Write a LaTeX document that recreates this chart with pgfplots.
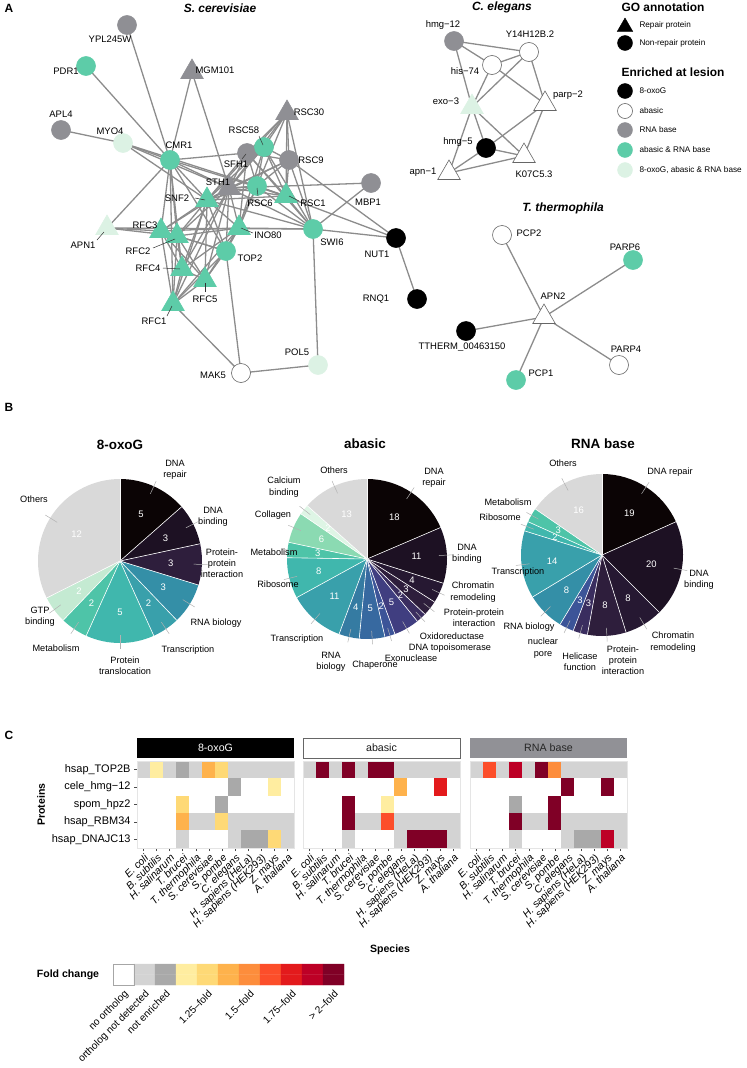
\documentclass[border=0pt]{standalone}
\usepackage{pgfplots}
\pgfplotsset{compat=1.18}
\usepackage{fontspec}
\setmainfont{Liberation Sans}

\definecolor{nteal}{RGB}{93,204,168}
\definecolor{ngrey}{RGB}{143,143,148}
\definecolor{nlight}{RGB}{220,242,228}
\definecolor{edgec}{RGB}{140,140,140}
\definecolor{p0}{RGB}{11,4,5}
\definecolor{p1}{RGB}{29,17,35}
\definecolor{p2}{RGB}{38,24,50}
\definecolor{p3}{RGB}{46,30,60}
\definecolor{p4}{RGB}{58,45,95}
\definecolor{p5}{RGB}{64,62,128}
\definecolor{p6}{RGB}{60,84,152}
\definecolor{p7}{RGB}{55,105,160}
\definecolor{p8}{RGB}{53,123,162}
\definecolor{p9}{RGB}{52,143,167}
\definecolor{p10}{RGB}{57,160,171}
\definecolor{p11}{RGB}{64,183,173}
\definecolor{p12}{RGB}{78,196,168}
\definecolor{p13}{RGB}{139,218,178}
\definecolor{p14}{RGB}{222,245,229}
\definecolor{pGTP}{RGB}{196,234,210}
\definecolor{pO}{RGB}{217,217,217}
\definecolor{stripgrey}{RGB}{145,145,150}

\pgfplotsset{
  colormap={fold}{rgb255=(255,255,255) rgb255=(211,211,211) rgb255=(169,169,169)
    rgb255=(255,237,160) rgb255=(254,217,118) rgb255=(254,178,76) rgb255=(253,141,60)
    rgb255=(252,78,42) rgb255=(227,26,28) rgb255=(189,0,38) rgb255=(128,0,38)},
  netedge/.style={color=edgec, line width=1.3bp, mark=none},
  heat/.style={scale only axis, width=157bp, height=87bp,
    xmin=-0.5, xmax=11.5, ymin=-0.5, ymax=4.5, y dir=reverse,
    enlargelimits=false, clip=false,
    colormap name=fold, colormap access=direct, point meta=explicit,
    xtick={0,...,11},
    xticklabels={E. coli, B. subtilis, H. salinarum, T. brucei, T. thermophila, S. cerevisiae, S. pombe, C. elegans, H. sapiens (HeLa), H. sapiens (HEK293), Z. mays, A. thaliana},
    xticklabel style={rotate=45, anchor=north east, font=\fontsize{10.5}{11}\selectfont\itshape, inner sep=1.5pt},
    tick align=outside, xtick pos=left, ytick pos=left,
    major tick length=3bp, tick style={color=black!70, line width=0.6bp},
    axis line style={draw=none}},
}

\newcommand\nd[3]{\expandafter\def\csname nd#1x\endcsname{#2}\expandafter\def\csname nd#1y\endcsname{#3}}
\newcommand\edg[2]{\edef\tmp{\noexpand\addplot[netedge] coordinates {(\csname nd#1x\endcsname,\csname nd#1y\endcsname) (\csname nd#2x\endcsname,\csname nd#2y\endcsname)};}\tmp}
\newcommand\ncirc[3]{\edef\tmp{\noexpand\addplot[only marks, mark=*, mark size=9.5bp, mark options={fill=#2, draw=#3, line width=0.6bp}] coordinates {(\csname nd#1x\endcsname,\csname nd#1y\endcsname)};}\tmp}
\newcommand\ntri[3]{\edef\tmp{\noexpand\addplot[only marks, mark=triangle*, mark size=13bp, mark options={fill=#2, draw=#3, line width=0.6bp}] coordinates {(\csname nd#1x\endcsname,\csname nd#1y\endcsname)};}\tmp}
\newcommand\nlab[3]{\begin{pgfonlayer}{axis foreground}\node[font=\fontsize{9.5}{11}\selectfont, inner sep=0pt] at (axis cs:#1,#2) {#3};\end{pgfonlayer}}
\newcommand\plab[3]{\node[font=\fontsize{9.2}{11.3}\selectfont, align=center, inner sep=0pt] at (axis cs:#1,#2) {#3};}
\newcommand\lead[4]{\begin{pgfonlayer}{axis foreground}\draw[black!80, line width=0.5bp] (axis cs:#1,#2) -- (axis cs:#3,#4);\end{pgfonlayer}}

\newcommand\pieslices[5]{%
  \xdef\pang{90}%
  \foreach \v/\c in {#5}{%
    \pgfmathsetmacro\pend{\pang-\v*360/#4}%
    \pgfmathsetmacro\pmid{(\pang+\pend)/2}%
    \fill[\c] (axis cs:#1,#2) -- ++(\pang:#3bp) arc[start angle=\pang, end angle=\pend, radius=#3bp] -- cycle;
    \draw[white, line width=0.6bp] (axis cs:#1,#2) -- ++(\pang:#3bp);
    \draw[black!30, line width=0.5bp] (axis cs:#1,#2) ++(\pmid:0.9*#3bp) -- ++(\pmid:0.17*#3bp);
    \path (axis cs:#1,#2) ++(\pmid:0.62*#3bp) node[font=\fontsize{9.5}{10}\selectfont, text=white] {\v};
    \xdef\pang{\pend}%
  }}

\begin{document}
\begin{tikzpicture}
\begin{axis}[at={(0,0)}, anchor=north west, scale only axis, width=747bp, height=1068bp,
  xmin=0, xmax=747, ymin=0, ymax=1068, y dir=reverse, hide axis, clip=false, set layers]

% ---------- network node positions (px) ----------
\nd{YPL}{127}{25}\nd{PDR1}{86}{66}\nd{MGM}{192}{72}\nd{APL4}{61}{130}\nd{MYO4}{123}{143}
\nd{CMR1}{170}{160}\nd{RSC30}{287}{113}\nd{RSC58}{264}{147}\nd{SFH1}{247}{153}\nd{RSC9}{289}{160}
\nd{STH1}{229}{188}\nd{RSC6}{257}{186}\nd{RSC1}{286}{196}\nd{SNF2}{207}{200}\nd{MBP1}{371}{183}
\nd{APN1}{107}{228}\nd{RFC3}{161}{231}\nd{RFC2}{177}{236}\nd{INO80}{239}{228}\nd{SWI6}{313}{229}
\nd{TOP2}{226}{251}\nd{RFC4}{182}{269}\nd{RFC5}{205}{280}\nd{RFC1}{173}{304}\nd{MAK5}{241}{373}
\nd{POL5}{318}{365}\nd{NUT1}{396}{238}\nd{RNQ1}{417}{299}
\nd{hmgA}{454}{41}\nd{Y14}{529}{52}\nd{his}{492}{65}\nd{exo}{472}{107}\nd{parp}{545}{104}
\nd{hmgB}{486}{148}\nd{K07}{524}{156}\nd{apn}{449}{173}
\nd{PCP2}{502}{235}\nd{PARP6}{633}{260}\nd{APN2}{544}{317}\nd{TTH}{466}{331}\nd{PARP4}{619}{365}\nd{PCP1}{516}{380}

% ---------- edges ----------
\edg{YPL}{CMR1}\edg{PDR1}{CMR1}\edg{MGM}{CMR1}\edg{MGM}{STH1}\edg{APL4}{MYO4}\edg{MYO4}{CMR1}
\edg{MYO4}{STH1}\edg{MYO4}{SNF2}\edg{MYO4}{RSC6}
\edg{CMR1}{SFH1}\edg{CMR1}{STH1}\edg{CMR1}{SNF2}\edg{CMR1}{RSC1}\edg{CMR1}{APN1}\edg{CMR1}{RFC3}
\edg{CMR1}{RFC2}\edg{CMR1}{RFC4}\edg{CMR1}{RFC1}\edg{CMR1}{TOP2}
\edg{RSC30}{RSC58}\edg{RSC30}{SFH1}\edg{RSC30}{RSC9}\edg{RSC30}{STH1}\edg{RSC30}{RSC6}\edg{RSC30}{RSC1}
\edg{RSC58}{SFH1}\edg{RSC58}{RSC9}\edg{RSC58}{STH1}\edg{RSC58}{RSC6}\edg{RSC58}{RSC1}
\edg{SFH1}{RSC9}\edg{SFH1}{STH1}\edg{SFH1}{RSC6}\edg{SFH1}{RSC1}
\edg{RSC9}{STH1}\edg{RSC9}{RSC6}\edg{RSC9}{RSC1}\edg{STH1}{RSC6}\edg{STH1}{RSC1}\edg{RSC6}{RSC1}
\edg{SWI6}{RSC30}\edg{SWI6}{RSC58}\edg{SWI6}{SFH1}\edg{SWI6}{RSC9}\edg{SWI6}{STH1}\edg{SWI6}{RSC6}
\edg{SWI6}{RSC1}\edg{SWI6}{SNF2}\edg{SWI6}{MBP1}\edg{SWI6}{APN1}\edg{SWI6}{POL5}\edg{SWI6}{NUT1}\edg{SWI6}{INO80}
\edg{SNF2}{STH1}\edg{SNF2}{RSC6}\edg{SNF2}{RSC1}\edg{SNF2}{SFH1}\edg{SNF2}{RSC58}\edg{SNF2}{RSC9}
\edg{SNF2}{RSC30}\edg{SNF2}{RFC3}\edg{SNF2}{RFC2}\edg{SNF2}{RFC4}\edg{SNF2}{RFC5}\edg{SNF2}{RFC1}
\edg{SNF2}{TOP2}\edg{SNF2}{INO80}
\edg{INO80}{STH1}\edg{INO80}{RSC6}\edg{INO80}{RSC58}\edg{INO80}{SFH1}\edg{INO80}{RFC3}\edg{INO80}{RFC2}
\edg{INO80}{RFC4}\edg{INO80}{RFC5}\edg{INO80}{RFC1}\edg{INO80}{TOP2}
\edg{TOP2}{RFC3}\edg{TOP2}{RFC2}\edg{TOP2}{RFC5}\edg{TOP2}{RFC1}\edg{TOP2}{STH1}\edg{TOP2}{MAK5}\edg{TOP2}{RSC6}
\edg{RFC1}{RFC2}\edg{RFC1}{RFC3}\edg{RFC1}{RFC4}\edg{RFC1}{RFC5}\edg{RFC2}{RFC3}\edg{RFC2}{RFC4}
\edg{RFC2}{RFC5}\edg{RFC3}{RFC4}\edg{RFC3}{RFC5}\edg{RFC4}{RFC5}
\edg{RFC3}{STH1}\edg{RFC2}{STH1}\edg{RFC4}{STH1}\edg{RFC5}{STH1}\edg{RFC1}{STH1}
\edg{APN1}{RFC3}\edg{APN1}{RFC2}\edg{MBP1}{STH1}
\edg{NUT1}{RSC9}\edg{NUT1}{RSC6}\edg{NUT1}{RNQ1}\edg{MAK5}{RFC1}\edg{MAK5}{POL5}
\edg{hmgA}{Y14}\edg{hmgA}{his}\edg{hmgA}{exo}\edg{his}{Y14}\edg{his}{exo}\edg{his}{parp}
\edg{Y14}{exo}\edg{Y14}{parp}\edg{exo}{apn}\edg{exo}{hmgB}\edg{exo}{K07}\edg{parp}{hmgB}
\edg{parp}{K07}\edg{hmgB}{apn}\edg{hmgB}{K07}\edg{apn}{K07}
\edg{APN2}{PCP2}\edg{APN2}{PARP6}\edg{APN2}{TTH}\edg{APN2}{PARP4}\edg{APN2}{PCP1}

% ---------- nodes ----------
\ncirc{YPL}{ngrey}{ngrey}\ncirc{PDR1}{nteal}{nteal}\ntri{MGM}{ngrey}{ngrey}\ncirc{APL4}{ngrey}{ngrey}
\ncirc{MYO4}{nlight}{nlight}\ncirc{CMR1}{nteal}{nteal}\ntri{RSC30}{ngrey}{ngrey}\ncirc{SFH1}{ngrey}{ngrey}
\ncirc{RSC58}{nteal}{nteal}\ncirc{RSC9}{ngrey}{ngrey}\ntri{STH1}{ngrey}{ngrey}\ncirc{RSC6}{nteal}{nteal}
\ntri{RSC1}{nteal}{nteal}\ntri{SNF2}{nteal}{nteal}\ncirc{MBP1}{ngrey}{ngrey}\ntri{APN1}{nlight}{nlight}
\ntri{RFC3}{nteal}{nteal}\ntri{RFC2}{nteal}{nteal}\ntri{INO80}{nteal}{nteal}\ncirc{SWI6}{nteal}{nteal}
\ncirc{TOP2}{nteal}{nteal}\ntri{RFC4}{nteal}{nteal}\ntri{RFC5}{nteal}{nteal}\ntri{RFC1}{nteal}{nteal}
\ncirc{MAK5}{white}{black!60}\ncirc{POL5}{nlight}{nlight}\ncirc{NUT1}{black}{black}\ncirc{RNQ1}{black}{black}
\ncirc{hmgA}{ngrey}{ngrey}\ncirc{Y14}{white}{black!60}\ncirc{his}{white}{black!60}\ntri{exo}{nlight}{nlight}
\ntri{parp}{white}{black!60}\ncirc{hmgB}{black}{black}\ntri{K07}{white}{black!60}\ntri{apn}{white}{black!60}
\ncirc{PCP2}{white}{black!60}\ncirc{PARP6}{nteal}{nteal}\ntri{APN2}{white}{black!60}\ncirc{TTH}{black}{black}
\ncirc{PARP4}{white}{black!60}\ncirc{PCP1}{nteal}{nteal}

% ---------- node labels ----------
\nlab{110}{39}{YPL245W}\nlab{66}{71}{PDR1}\nlab{215}{70}{MGM101}\nlab{61}{114}{APL4}\nlab{110}{131}{MYO4}
\nlab{179}{145}{CMR1}\nlab{309}{112}{RSC30}\nlab{244}{130}{RSC58}\nlab{236}{164}{SFH1}\nlab{311}{160}{RSC9}
\nlab{218}{182}{STH1}\nlab{260}{203}{RSC6}\nlab{313}{203}{RSC1}\nlab{177}{198}{SNF2}\nlab{368}{202}{MBP1}
\nlab{83}{245}{APN1}\nlab{145}{225}{RFC3}\nlab{138}{251}{RFC2}\nlab{268}{235}{INO80}\nlab{332}{242}{SWI6}
\nlab{250}{258}{TOP2}\nlab{148}{268}{RFC4}\nlab{205}{299}{RFC5}\nlab{154}{321}{RFC1}\nlab{213}{375}{MAK5}
\nlab{297}{352}{POL5}\nlab{377}{254}{NUT1}\nlab{376}{299}{RNQ1}
\lead{259}{136}{263}{145}\lead{242}{159}{246}{154}\lead{258}{196}{257}{188}\lead{299}{201}{289}{196}
\lead{253}{233}{241}{228}\lead{153}{248}{175}{239}\lead{163}{268}{180}{269}\lead{205}{292}{205}{283}
\lead{167}{316}{172}{306}\lead{97}{240}{104}{232}\lead{195}{198}{205}{200}
\nlab{443}{25}{hmg−12}\nlab{530}{34}{Y14H12B.2}\nlab{465}{71}{his−74}\nlab{446}{101}{exo−3}
\nlab{568}{95}{parp−2}\nlab{458}{142}{hmg−5}\nlab{534}{174}{K07C5.3}\nlab{423}{172}{apn−1}
\nlab{529}{233}{PCP2}\nlab{625}{247}{PARP6}\nlab{553}{296}{APN2}\nlab{462}{347}{TTHERM\_00463150}
\nlab{626}{349}{PARP4}\nlab{541}{373}{PCP1}

% ---------- titles ----------
\node[font=\bfseries\fontsize{12}{14}\selectfont] at (axis cs:9,8) {A};
\node[font=\bfseries\itshape\fontsize{12}{14}\selectfont] at (axis cs:220,8) {S. cerevisiae};
\node[font=\bfseries\itshape\fontsize{12}{14}\selectfont] at (axis cs:502,7) {C. elegans};
\node[font=\bfseries\itshape\fontsize{12}{14}\selectfont] at (axis cs:563,208) {T. thermophila};

% ---------- network legend ----------
\node[font=\bfseries\fontsize{12}{14}\selectfont, anchor=west] at (axis cs:618,7) {GO annotation};
\addplot[only marks, mark=triangle*, mark size=9bp, mark options={fill=black, draw=black}] coordinates {(625,27)};
\addplot[only marks, mark=*, mark size=7.5bp, mark options={fill=black, draw=black}] coordinates {(625,43)};
\node[font=\fontsize{8.2}{10}\selectfont, anchor=west] at (axis cs:636,25) {Repair protein};
\node[font=\fontsize{8.2}{10}\selectfont, anchor=west] at (axis cs:636,43) {Non-repair protein};
\node[font=\bfseries\fontsize{12}{14}\selectfont, anchor=west] at (axis cs:618,72) {Enriched at lesion};
\addplot[only marks, mark=*, mark size=7.5bp, mark options={fill=black, draw=black}] coordinates {(625,91)};
\addplot[only marks, mark=*, mark size=7.5bp, mark options={fill=white, draw=black!60, line width=0.6bp}] coordinates {(625,111)};
\addplot[only marks, mark=*, mark size=7.5bp, mark options={fill=ngrey, draw=ngrey}] coordinates {(625,130)};
\addplot[only marks, mark=*, mark size=7.5bp, mark options={fill=nteal, draw=nteal}] coordinates {(625,150)};
\addplot[only marks, mark=*, mark size=7.5bp, mark options={fill=nlight, draw=nlight}] coordinates {(625,170)};
\node[font=\fontsize{8.2}{10}\selectfont, anchor=west] at (axis cs:636,91) {8-oxoG};
\node[font=\fontsize{8.2}{10}\selectfont, anchor=west] at (axis cs:636,111) {abasic};
\node[font=\fontsize{8.2}{10}\selectfont, anchor=west] at (axis cs:636,130) {RNA base};
\node[font=\fontsize{8.2}{10}\selectfont, anchor=west] at (axis cs:636,150) {abasic \& RNA base};
\node[font=\fontsize{8.2}{10}\selectfont, anchor=west] at (axis cs:636,170) {8-oxoG, abasic \& RNA base};

% ---------- pies ----------
\node[font=\bfseries\fontsize{12}{14}\selectfont] at (axis cs:9,407) {B};
\node[font=\bfseries\fontsize{13.5}{15}\selectfont] at (axis cs:120,445) {8-oxoG};
\node[font=\bfseries\fontsize{13.5}{15}\selectfont] at (axis cs:365,444) {abasic};
\node[font=\bfseries\fontsize{13.5}{15}\selectfont] at (axis cs:603,444) {RNA base};
\pgfplotsextra{\pieslices{120}{561}{82}{37}{5/p0,3/p1,3/p3,3/p9,2/p10,5/p11,2/p12,2/pGTP,12/pO}}
\pgfplotsextra{\pieslices{367}{559}{80}{97}{18/p0,11/p1,4/p2,3/p3,2/p4,5/p5,2/p6,5/p7,4/p8,11/p10,8/p11,3/p12,6/p13,2/p14,13/pO}}
\pgfplotsextra{\pieslices{602}{555}{81}{104}{19/p0,20/p1,8/p2,8/p3,3/p4,3/p6,8/p9,14/p10,2/p11,3/p12,16/pO}}
\plab{175}{470}{DNA\\repair}\plab{213}{517}{DNA\\binding}\plab{222}{563}{Protein-\\protein\\interaction}
\plab{216}{623}{RNA biology}\plab{188}{650}{Transcription}\plab{125}{666}{Protein\\translocation}
\plab{56}{648}{Metabolism}\plab{40}{617}{GTP\\binding}\plab{34}{499}{Others}
\plab{334}{470}{Others}\plab{434}{478}{DNA\\repair}\plab{467}{554}{DNA\\binding}\plab{473}{592}{Chromatin\\remodeling}
\plab{474}{618}{Protein-protein\\interaction}\plab{452}{636}{Oxidoreductase}\plab{450}{648}{DNA topoisomerase}
\plab{411}{658}{Exonuclease}\plab{375}{665}{Chaperone}\plab{331}{662}{RNA\\biology}\plab{297}{639}{Transcription}
\plab{278}{584}{Ribosome}\plab{274}{552}{Metabolism}\plab{273}{515}{Collagen}\plab{284}{487}{Calcium\\binding}
\plab{563}{463}{Others}\plab{670}{472}{DNA repair}\plab{699}{580}{DNA\\binding}\plab{673}{642}{Chromatin\\remodeling}
\plab{623}{660}{Protein-\\protein\\interaction}\plab{580}{662}{Helicase\\function}\plab{543}{648}{nuclear\\pore}
\plab{529}{627}{RNA biology}\plab{518}{572}{Transcription}\plab{500}{517}{Ribosome}\plab{508}{502}{Metabolism}

% ---------- heatmap texts ----------
\node[font=\bfseries\fontsize{12}{14}\selectfont] at (axis cs:9,735) {C};
\node[font=\bfseries\fontsize{10.6}{12}\selectfont] at (axis cs:390,950) {Species};
\node[font=\bfseries\fontsize{10.6}{12}\selectfont] at (axis cs:68,975) {Fold change};
\end{axis}

% ---------- heatmap panel 1: 8-oxoG ----------
\begin{axis}[heat, at={(137bp,-761bp)}, anchor=north west,
  ytick={0,...,4}, yticklabels={hsap\_TOP2B, cele\_hmg−12, spom\_hpz2, hsap\_RBM34, hsap\_DNAJC13},
  yticklabel style={font=\fontsize{11}{12}\selectfont},
  ylabel={Proteins}, ylabel style={font=\bfseries\fontsize{10.6}{12}\selectfont}]
\addplot[matrix plot*, mesh/cols=12] table[meta=c, row sep=\\] {
x y c\\
0 0 1\\ 1 0 3\\ 2 0 1\\ 3 0 2\\ 4 0 1\\ 5 0 5\\ 6 0 4\\ 7 0 1\\ 8 0 1\\ 9 0 1\\ 10 0 1\\ 11 0 1\\
0 1 0\\ 1 1 0\\ 2 1 0\\ 3 1 0\\ 4 1 0\\ 5 1 0\\ 6 1 0\\ 7 1 2\\ 8 1 0\\ 9 1 0\\ 10 1 3\\ 11 1 0\\
0 2 0\\ 1 2 0\\ 2 2 0\\ 3 2 4\\ 4 2 0\\ 5 2 0\\ 6 2 2\\ 7 2 0\\ 8 2 0\\ 9 2 0\\ 10 2 0\\ 11 2 0\\
0 3 0\\ 1 3 0\\ 2 3 0\\ 3 3 5\\ 4 3 1\\ 5 3 1\\ 6 3 4\\ 7 3 1\\ 8 3 1\\ 9 3 1\\ 10 3 1\\ 11 3 1\\
0 4 0\\ 1 4 0\\ 2 4 0\\ 3 4 1\\ 4 4 0\\ 5 4 0\\ 6 4 0\\ 7 4 1\\ 8 4 2\\ 9 4 2\\ 10 4 4\\ 11 4 1\\
};
\draw[black!10, line width=0.8bp] (axis description cs:0,0) rectangle (axis description cs:1,1);
\fill[black] ([yshift=3bp]axis description cs:0,1) rectangle ([yshift=23bp]axis description cs:1,1);
\node[text=white, font=\fontsize{10.7}{12}\selectfont] at ([yshift=13bp]axis description cs:0.5,1) {8-oxoG};
\end{axis}

% ---------- heatmap panel 2: abasic ----------
\begin{axis}[heat, at={(303bp,-761bp)}, anchor=north west, ytick=\empty]
\addplot[matrix plot*, mesh/cols=12] table[meta=c, row sep=\\] {
x y c\\
0 0 1\\ 1 0 10\\ 2 0 1\\ 3 0 10\\ 4 0 1\\ 5 0 10\\ 6 0 10\\ 7 0 1\\ 8 0 1\\ 9 0 1\\ 10 0 1\\ 11 0 1\\
0 1 0\\ 1 1 0\\ 2 1 0\\ 3 1 0\\ 4 1 0\\ 5 1 0\\ 6 1 0\\ 7 1 5\\ 8 1 0\\ 9 1 0\\ 10 1 8\\ 11 1 0\\
0 2 0\\ 1 2 0\\ 2 2 0\\ 3 2 10\\ 4 2 0\\ 5 2 0\\ 6 2 3\\ 7 2 0\\ 8 2 0\\ 9 2 0\\ 10 2 0\\ 11 2 0\\
0 3 0\\ 1 3 0\\ 2 3 0\\ 3 3 10\\ 4 3 1\\ 5 3 1\\ 6 3 7\\ 7 3 1\\ 8 3 1\\ 9 3 1\\ 10 3 1\\ 11 3 1\\
0 4 0\\ 1 4 0\\ 2 4 0\\ 3 4 1\\ 4 4 0\\ 5 4 0\\ 6 4 0\\ 7 4 1\\ 8 4 10\\ 9 4 10\\ 10 4 10\\ 11 4 1\\
};
\draw[black!10, line width=0.8bp] (axis description cs:0,0) rectangle (axis description cs:1,1);
\draw[fill=white, draw=black!60, line width=0.8bp] ([yshift=3bp]axis description cs:0,1) rectangle ([yshift=23bp]axis description cs:1,1);
\node[text=black!90, font=\fontsize{10.7}{12}\selectfont] at ([yshift=13bp]axis description cs:0.5,1) {abasic};
\end{axis}

% ---------- heatmap panel 3: RNA base ----------
\begin{axis}[heat, at={(470bp,-761bp)}, anchor=north west, ytick=\empty]
\addplot[matrix plot*, mesh/cols=12] table[meta=c, row sep=\\] {
x y c\\
0 0 1\\ 1 0 7\\ 2 0 1\\ 3 0 9\\ 4 0 1\\ 5 0 10\\ 6 0 6\\ 7 0 1\\ 8 0 1\\ 9 0 1\\ 10 0 1\\ 11 0 1\\
0 1 0\\ 1 1 0\\ 2 1 0\\ 3 1 0\\ 4 1 0\\ 5 1 0\\ 6 1 0\\ 7 1 10\\ 8 1 0\\ 9 1 0\\ 10 1 10\\ 11 1 0\\
0 2 0\\ 1 2 0\\ 2 2 0\\ 3 2 2\\ 4 2 0\\ 5 2 0\\ 6 2 10\\ 7 2 0\\ 8 2 0\\ 9 2 0\\ 10 2 0\\ 11 2 0\\
0 3 0\\ 1 3 0\\ 2 3 0\\ 3 3 10\\ 4 3 1\\ 5 3 1\\ 6 3 10\\ 7 3 1\\ 8 3 1\\ 9 3 1\\ 10 3 1\\ 11 3 1\\
0 4 0\\ 1 4 0\\ 2 4 0\\ 3 4 1\\ 4 4 0\\ 5 4 0\\ 6 4 0\\ 7 4 1\\ 8 4 2\\ 9 4 2\\ 10 4 9\\ 11 4 1\\
};
\draw[black!10, line width=0.8bp] (axis description cs:0,0) rectangle (axis description cs:1,1);
\fill[stripgrey] ([yshift=3bp]axis description cs:0,1) rectangle ([yshift=23bp]axis description cs:1,1);
\node[text=black!85, font=\fontsize{10.7}{12}\selectfont] at ([yshift=13bp]axis description cs:0.5,1) {RNA base};
\end{axis}

% ---------- fold change legend ----------
\begin{axis}[at={(113bp,-964bp)}, anchor=north west, scale only axis, width=231bp, height=21bp,
  xmin=-0.5, xmax=10.5, ymin=-0.5, ymax=1.5, enlargelimits=false, clip=false,
  colormap name=fold, colormap access=direct, point meta=explicit,
  axis line style={draw=none}, ytick=\empty, xtick={0,1,2,4,6,8,10},
  xticklabels={no ortholog, ortholog not detected, not enriched, 1.25–fold, 1.5–fold, 1.75–fold, > 2–fold},
  major tick length=0pt, xticklabel shift=3bp,
  xticklabel style={rotate=45, anchor=north east, font=\fontsize{10.2}{11}\selectfont, inner sep=1pt}]
\addplot[matrix plot*, mesh/cols=11] table[meta=c, row sep=\\] {
x y c\\
0 0 0\\ 1 0 1\\ 2 0 2\\ 3 0 3\\ 4 0 4\\ 5 0 5\\ 6 0 6\\ 7 0 7\\ 8 0 8\\ 9 0 9\\ 10 0 10\\
0 1 0\\ 1 1 1\\ 2 1 2\\ 3 1 3\\ 4 1 4\\ 5 1 5\\ 6 1 6\\ 7 1 7\\ 8 1 8\\ 9 1 9\\ 10 1 10\\
};
\draw[black!35, line width=0.6bp] (axis cs:-0.5,-0.5) rectangle (axis cs:0.5,1.5);
\end{axis}

\pgfresetboundingbox
\path[use as bounding box] (0,0) rectangle (747bp,-1068bp);
\end{tikzpicture}
\end{document}
